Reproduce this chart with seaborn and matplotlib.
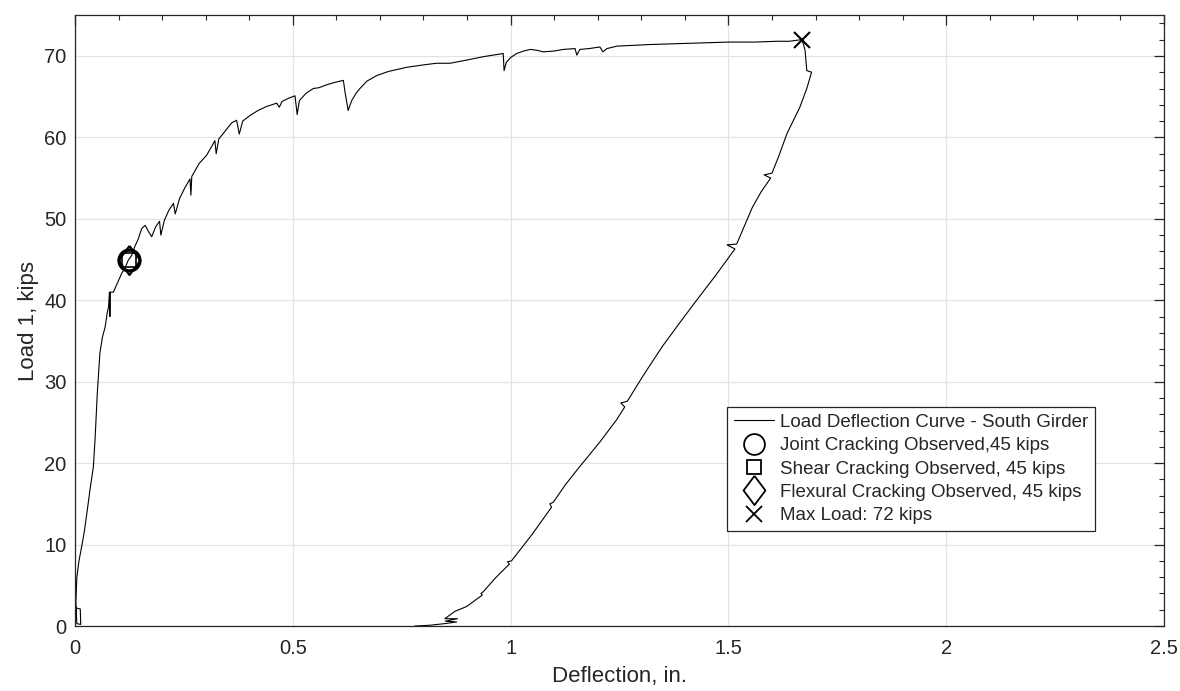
import numpy as np
import pandas as pd
import matplotlib
matplotlib.use("Agg")
import matplotlib.pyplot as plt
import seaborn as sns
from matplotlib.ticker import MultipleLocator

# 数据准备: load-deflection curve (loading, then unloading)
defl = [0.000, 0.003, 0.012, 0.013, 0.004, 0.003, 0.002, 0.004, 0.009, 0.015,
        0.021, 0.027, 0.035, 0.042, 0.046, 0.051, 0.054, 0.057, 0.063, 0.069,
        0.074, 0.077, 0.079, 0.080, 0.081, 0.088, 0.098, 0.107, 0.115, 0.122,
        0.130, 0.138, 0.145, 0.153, 0.161, 0.168, 0.176, 0.185, 0.194, 0.197,
        0.205, 0.215, 0.226, 0.230, 0.240, 0.252, 0.264, 0.266, 0.268, 0.285,
        0.302, 0.315, 0.321, 0.324, 0.330, 0.345, 0.360, 0.371, 0.377, 0.385,
        0.402, 0.420, 0.440, 0.463, 0.469, 0.475, 0.490, 0.505, 0.510, 0.515,
        0.530, 0.547, 0.560, 0.580, 0.600, 0.616, 0.620, 0.627, 0.635, 0.645,
        0.654, 0.670, 0.693, 0.720, 0.761, 0.800, 0.830, 0.861, 0.900, 0.937,
        0.960, 0.983, 0.985, 0.990, 1.000, 1.014, 1.030, 1.045, 1.060, 1.075,
        1.100, 1.121, 1.148, 1.152, 1.159, 1.180, 1.205, 1.212, 1.221, 1.244,
        1.281, 1.320, 1.380, 1.435, 1.500, 1.560, 1.611, 1.640, 1.668,
        1.672, 1.676, 1.680, 1.691, 1.680, 1.664, 1.634, 1.615, 1.600, 1.582,
        1.597, 1.575, 1.555, 1.519, 1.497, 1.515, 1.470, 1.427, 1.385, 1.348,
        1.305, 1.268, 1.253, 1.262, 1.243, 1.205, 1.159, 1.125, 1.098, 1.090,
        1.094, 1.050, 1.002, 0.993, 0.997, 0.965, 0.937, 0.932, 0.935, 0.899,
        0.872, 0.849, 0.878, 0.850, 0.876, 0.849, 0.815, 0.780]
load = [0.0, 2.2, 2.1, 0.2, 0.3, 1.8, 3.0, 5.9, 8.0, 9.7,
        11.5, 13.8, 17.0, 19.5, 23.0, 28.5, 31.0, 33.5, 35.5, 36.7,
        38.5, 39.2, 41.0, 38.0, 41.0, 41.0, 42.2, 43.3, 44.0, 44.9,
        45.5, 46.7, 47.5, 48.8, 49.2, 48.5, 47.8, 49.0, 49.7, 48.0,
        49.8, 51.0, 51.9, 50.6, 52.5, 53.8, 54.9, 52.9, 55.2, 56.8,
        57.8, 59.0, 59.6, 58.0, 59.8, 60.8, 61.8, 62.1, 60.4, 62.0,
        62.7, 63.3, 63.8, 64.2, 63.7, 64.4, 64.8, 65.1, 62.8, 64.5,
        65.4, 66.0, 66.1, 66.5, 66.8, 67.0, 65.5, 63.3, 64.5, 65.4,
        66.0, 66.9, 67.6, 68.1, 68.6, 68.9, 69.1, 69.1, 69.5, 69.9,
        70.1, 70.3, 68.2, 69.2, 69.8, 70.3, 70.6, 70.8, 70.7, 70.5,
        70.6, 70.8, 70.9, 70.1, 70.8, 70.9, 71.1, 70.5, 70.9, 71.2,
        71.3, 71.4, 71.5, 71.6, 71.7, 71.7, 71.8, 71.8, 72.0,
        71.5, 70.7, 68.2, 68.0, 66.0, 63.7, 60.4, 57.6, 55.6, 55.4,
        55.0, 53.3, 51.4, 46.9, 46.8, 46.3, 43.0, 40.0, 37.0, 34.3,
        30.8, 27.6, 27.4, 26.9, 25.3, 22.6, 19.6, 17.3, 15.2, 15.0,
        14.6, 11.3, 8.0, 7.9, 7.6, 5.9, 4.2, 4.0, 3.8, 2.4,
        1.8, 0.9, 0.9, 0.6, 0.5, 0.3, 0.1, 0.0]

crack_defl = 0.125
crack_load = 45
max_defl = 1.668
max_load = 72

labels = ["Load Deflection Curve - South Girder",
          "Joint Cracking Observed,45 kips",
          "Shear Cracking Observed, 45 kips",
          "Flexural Cracking Observed, 45 kips",
          "Max Load: 72 kips"]

sns.set_style("white")
plt.rcParams['font.family'] = ['Liberation Sans', 'DejaVu Sans']

fig = plt.figure(figsize=(11.8, 6.91), dpi=100)
ax = fig.add_axes([0.0636, 0.094, 0.9228, 0.884])

df = pd.DataFrame({'x': defl, 'y': load})
sns.lineplot(x='x', y='y', data=df, sort=False, estimator=None,
             color='black', linewidth=0.8, ax=ax, label=labels[0])

diamond = [(0, 1), (0.75, 0), (0, -1), (-0.75, 0), (0, 1)]
ax.plot([crack_defl], [crack_load], ls='none', marker='o', ms=15,
        mfc='none', mec='black', mew=2.4, label=labels[1])
ax.plot([crack_defl], [crack_load], ls='none', marker='s', ms=10,
        mfc='none', mec='black', mew=1.2, label=labels[2])
ax.plot([crack_defl], [crack_load], ls='none', marker=diamond, ms=21,
        mfc='none', mec='black', mew=1.5, label=labels[3])
ax.plot([max_defl], [max_load], ls='none', marker='x', ms=12,
        mec='black', mew=1.5, label=labels[4])

ax.set_xlim(0, 2.5)
ax.set_ylim(0, 75)
ax.xaxis.set_major_locator(MultipleLocator(0.5))
ax.xaxis.set_minor_locator(MultipleLocator(0.1))
ax.yaxis.set_major_locator(MultipleLocator(10))
ax.yaxis.set_minor_locator(MultipleLocator(2))
ax.set_xticks([0, 0.5, 1, 1.5, 2, 2.5])
ax.set_xticklabels(['0', '0.5', '1', '1.5', '2', '2.5'])

ax.grid(True, which='major', color='#e3e3e3', linewidth=0.9)
ax.tick_params(which='both', direction='in', top=True, right=True,
               colors='#262626', labelsize=14.5)
ax.tick_params(which='major', length=7, width=0.9)
ax.tick_params(which='minor', length=3.5, width=0.8)
ax.tick_params(axis='x', which='both', pad=9)
ax.tick_params(axis='y', which='both', pad=6)
for s in ax.spines.values():
    s.set_color('#262626')
    s.set_linewidth(0.9)

ax.set_xlabel('Deflection, in.', fontsize=16, color='#262626', labelpad=6)
ax.set_ylabel('Load 1, kips', fontsize=16, color='#262626', labelpad=4)

leg = ax.legend(loc='upper left', bbox_to_anchor=(0.599, 0.358),
                borderaxespad=0, fontsize=13.5, frameon=True, fancybox=False,
                edgecolor='#262626', framealpha=1, handlelength=2.15,
                labelspacing=0.33, handletextpad=0.3, borderpad=0.35)
leg.get_frame().set_linewidth(0.9)
for h in leg.legend_handles[1:]:
    h.set_markeredgewidth(1.3)

fig.savefig('out.png', dpi=100)
